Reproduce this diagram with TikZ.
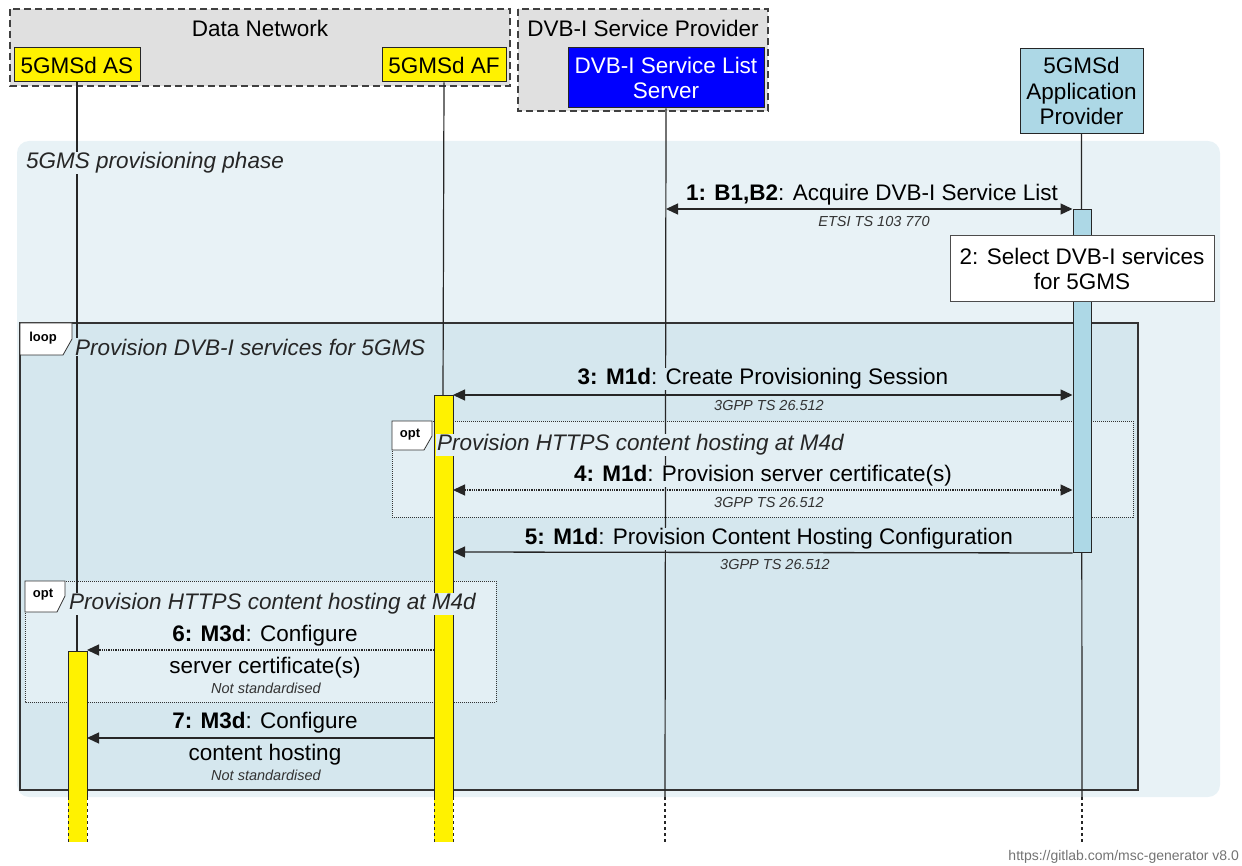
\documentclass[tikz,border=0pt]{standalone}
\usepackage{fontspec}
\setmainfont{Liberation Sans}
\usepackage{xcolor}
\usetikzlibrary{arrows.meta,positioning,calc}

\definecolor{phasebg}{HTML}{E8F2F6}
\definecolor{loopbg}{HTML}{D5E7EE}
\definecolor{optbg}{HTML}{E3EFF4}
\definecolor{grpgray}{HTML}{E0E0E0}
\definecolor{appblue}{HTML}{ADD8E6}
\definecolor{dvbblue}{HTML}{0000FF}

\newcommand{\bigfs}{\fontsize{22.5}{25.5}\selectfont}
\newcommand{\smallfs}{\fontsize{14.5}{16}\selectfont\itshape}
\newcommand{\tagfs}{\fontsize{13}{14}\selectfont\bfseries}

\begin{document}
\begin{tikzpicture}[
  x=1pt, y=-1pt,
  every node/.style={font=\bigfs, inner sep=1pt},
  >={Triangle[length=12pt,width=11pt]},
  grp/.style={draw=black!75, dash pattern=on 7pt off 4pt, line width=1.3pt, fill=grpgray},
  entity/.style={draw=black!85, line width=1pt, align=center, inner sep=0pt},
  lifeline/.style={draw=black!85, line width=1.2pt},
  actbar/.style={draw=black!85, line width=1pt},
  msg/.style={->, draw=black!85, line width=1.3pt},
  dmsg/.style={<->, draw=black!85, line width=1.3pt},
  ref/.style={font=\smallfs, text=black!80},
  frametag/.style={draw=black!80, fill=white, line width=0.8pt},
  framelbl/.style={font=\bigfs\itshape, anchor=west, text=black!85}
]
\useasboundingbox (0,0) rectangle (1242,866);

% groups and entities
\draw[grp] (10,9) rectangle (510,86);
\node at (260,28) {Data Network};
\draw[grp] (518,9) rectangle (768,111);
\node at (643,28) {DVB-I Service Provider};

\node[entity, fill=yellow, minimum width=126pt, minimum height=34pt] (as) at (77,65) {5GMSd AS};
\node[entity, fill=yellow, minimum width=124pt, minimum height=34pt] (af) at (444,65) {5GMSd AF};
\node[entity, fill=dvbblue, text=white, minimum width=196pt, minimum height=60pt] (sls) at (666,78) {DVB-I Service List\\Server};
\node[entity, fill=appblue, minimum width=123pt, minimum height=85pt] (ap) at (1081.5,91) {5GMSd\\Application\\Provider};

% phase, loop and opt frames
\fill[phasebg, rounded corners=12pt] (17,141) rectangle (1220,797);
\draw[draw=black!80, line width=1.2pt, fill=loopbg] (20,323) rectangle (1138,790);
\draw[densely dotted, draw=black!80, line width=1pt, fill=optbg] (392,421) rectangle (1133,517);
\draw[densely dotted, draw=black!80, line width=1pt, fill=optbg] (25,581) rectangle (496,702);

% lifelines
\coordinate (asEnd) at (77,651);
\coordinate (afEnd) at (443,395);
\coordinate (slsMid) at (665,797);
\coordinate (slsEnd) at (665,842);
\coordinate (apMid) at (1082,797);
\coordinate (apEnd) at (1082,842);
\draw[lifeline] (as.south) -- (asEnd);
\draw[lifeline] (af.south) -- (afEnd);
\draw[lifeline] (sls.south) -- (slsMid);
\draw[lifeline, dashed] (slsMid) -- (slsEnd);
\draw[lifeline] (ap.south) -- (apMid);
\draw[lifeline, dashed] (apMid) -- (apEnd);

% activations
\node[fill=appblue, draw=black!85, line width=1pt, minimum width=18pt, minimum height=343pt, inner sep=0pt, anchor=north] (apAct) at (1082,209) {};
\fill[yellow] (434,395) rectangle (453,842);
\draw[actbar] (434,797) -- (434,395) -- (453,395) -- (453,797);
\draw[actbar, dashed] (434,797) -- (434,842) (453,797) -- (453,842);
\fill[yellow] (68,651) rectangle (87,842);
\draw[actbar] (68,797) -- (68,651) -- (87,651) -- (87,797);
\draw[actbar, dashed] (68,797) -- (68,842) (87,797) -- (87,842);
\coordinate (afL) at (434,0);
\coordinate (afR) at (453,0);
\coordinate (asR) at (87,0);

% frame tags and titles
\node[framelbl, fill=phasebg] at (25,163) {5GMS provisioning phase};
\draw[frametag] (20,323) -- (72,323) -- (72,339) -- (63,355) -- (20,355) -- cycle;
\node[font=\tagfs] at (43,338) {loop};
\node[framelbl, fill=loopbg] at (74,347) {Provision DVB-I services for 5GMS};
\draw[frametag] (392,421) -- (432,421) -- (432,436) -- (424,450) -- (392,450) -- cycle;
\node[font=\tagfs] at (410,435) {opt};
\node[framelbl, fill=optbg] at (436,445) {Provision HTTPS content hosting at M4d};
\draw[frametag] (25,581) -- (65,581) -- (65,596) -- (57,612) -- (25,612) -- cycle;
\node[font=\tagfs] at (43,595) {opt};
\node[framelbl, fill=optbg] at (68,604) {Provision HTTPS content hosting at M4d};

% 1 and 2
\draw[dmsg] (sls.south |- 0,209) -- (apAct.north west);
\node[fill=phasebg] at (872,195) {\textbf{1: B1,B2}: Acquire DVB-I Service List};
\node[ref, fill=phasebg] at (874,222) {ETSI TS 103 770};
\node[draw=black!70, fill=white, line width=1pt, align=center, minimum width=264pt, minimum height=66pt] (sel) at (1082,269) {2: Select DVB-I services\\for 5GMS};

% 3, 4, 5
\draw[dmsg] (afR |- 0,395) -- (apAct.west |- 0,395);
\node[fill=loopbg] at (763,379) {\textbf{3: M1d}: Create Provisioning Session};
\node[ref, fill=loopbg] at (769,406) {3GPP TS 26.512};
\draw[dmsg, densely dotted] (afR |- 0,490) -- (apAct.west |- 0,490);
\node[fill=optbg] at (763,476) {\textbf{4: M1d}: Provision server certificate(s)};
\node[ref, fill=optbg] at (769,503) {3GPP TS 26.512};
\draw[msg] (apAct.south west) -- (afR |- 0,552);
\node[fill=loopbg] at (769,539) {\textbf{5: M1d}: Provision Content Hosting Configuration};
\node[ref, fill=loopbg] at (775,565) {3GPP TS 26.512};

% 6, 7
\draw[msg, densely dotted] (afL |- 0,650) -- (asR |- 0,650);
\node[fill=optbg] at (265,636) {\textbf{6: M3d}: Configure};
\node[fill=optbg] at (265,668) {server certificate(s)};
\node[ref, fill=optbg] at (266,688) {Not standardised};
\draw[msg] (afL |- 0,738) -- (asR |- 0,738);
\node[fill=loopbg] at (265,723) {\textbf{7: M3d}: Configure};
\node[fill=loopbg] at (265,755) {content hosting};
\node[ref, fill=loopbg] at (266,775) {Not standardised};

% footer
\node[anchor=east, font=\fontsize{14}{16}\selectfont, text=black!55] at (1240,857) {https://gitlab.com/msc-generator v8.0};
\end{tikzpicture}
\end{document}
